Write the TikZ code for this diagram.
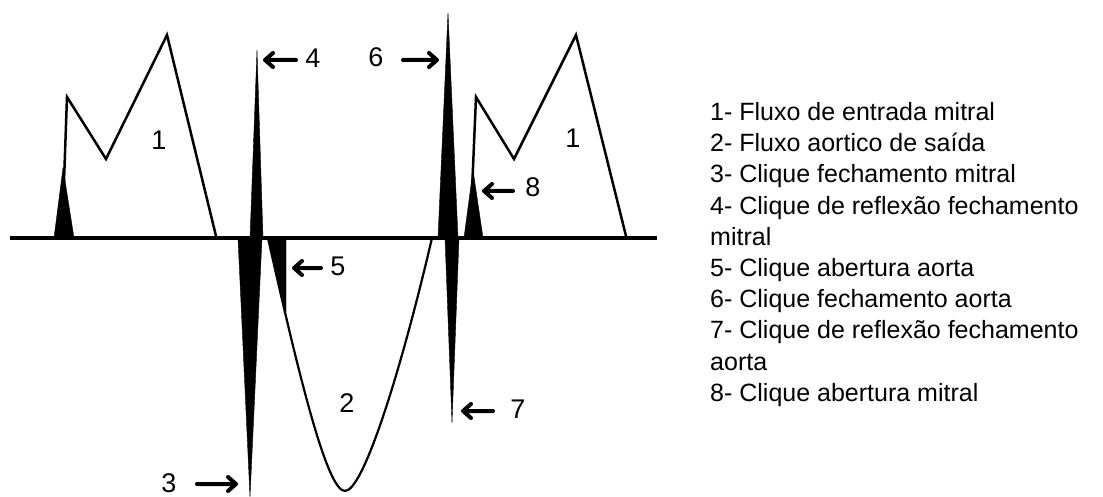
\documentclass[tikz,border=0pt]{standalone}
\usepackage{fontspec}
\setmainfont{Liberation Sans}
\begin{document}
\begin{tikzpicture}[x=1pt,y=-1pt]
\tikzset{
  wave/.style={line width=2.5pt,line join=miter},
  axisline/.style={line width=3.2pt},
  spike/.style={fill=black,draw=black,line width=0.4pt,line join=round},
  pointer/.style={draw=black,line width=4pt,line join=round,line cap=round},
  num/.style={inner sep=0pt,font=\fontsize{27}{30}\selectfont},
  legend/.style={inner sep=0pt,anchor=base west,font=\fontsize{25}{30}\selectfont}}
\useasboundingbox (0,0) rectangle (1103,497);
% baseline
\coordinate (b0) at (10,238);
\coordinate (b1) at (657,238);
\draw[axisline] (b0) -- (b1);
% left mitral inflow wave
\draw[wave] (62,238) -- (67,97) -- (106,159) -- (167,35) -- (216,236);
\fill[spike] (54,238) -- (74,238) -- (63,168) -- cycle;
% right mitral inflow wave
\draw[wave] (470,238) -- (476,97) -- (514,159) -- (576,35) -- (626,236);
\fill[spike] (464,238) -- (483,238) -- (473,170) -- cycle;
% spikes 3 and 4
\fill[spike] (238,238) -- (262,238) -- (250,497) -- cycle;
\fill[spike] (250,238) -- (263,238) -- (257,50) -- cycle;
% spike 5 and aortic outflow 2
\fill[spike] (268,238) -- (286,238) -- (286,312) -- cycle;
\draw[line width=2.2pt] (268,238) .. controls (302,390) and (328,491) .. (345,491)
  .. controls (363,491) and (400,375) .. (432,238);
% spikes 6 and 7
\fill[spike] (438,238) -- (458,238) -- (448,13) -- cycle;
\fill[spike] (445,238) -- (459,238) -- (452,423) -- cycle;
% labels
\node[num] (l1a) at (159,140) {1};
\node[num] (l1b) at (573,138) {1};
\node[num] (l2) at (347,403) {2};
\node[num] (l3) at (169,483) {3};
\node[num] (l4) at (313,58) {4};
\node[num] (l5) at (338,266) {5};
\node[num] (l6) at (376,57) {6};
\node[num] (l7) at (518,409) {7};
\node[num] (l8) at (533,187) {8};
% arrow ends
\coordinate (a3s) at (197,484); \coordinate (a3e) at (236,484);
\coordinate (a4s) at (296,60);  \coordinate (a4e) at (265,60);
\coordinate (a5s) at (321,268); \coordinate (a5e) at (294,268);
\coordinate (a6s) at (403,60);  \coordinate (a6e) at (437,60);
\coordinate (a7s) at (493,411); \coordinate (a7e) at (463,411);
\coordinate (a8s) at (513,191); \coordinate (a8e) at (484,191);
% right-pointing
\draw[pointer] (a3s) -- (a3e) ++(-8,-7) -- (a3e) -- ++(-8,7);
\draw[pointer] (a6s) -- (a6e) ++(-8,-7) -- (a6e) -- ++(-8,7);
% left-pointing
\draw[pointer] (a4s) -- (a4e) ++(8,-7) -- (a4e) -- ++(8,7);
\draw[pointer] (a5s) -- (a5e) ++(8,-7) -- (a5e) -- ++(8,7);
\draw[pointer] (a7s) -- (a7e) ++(8,-7) -- (a7e) -- ++(8,7);
\draw[pointer] (a8s) -- (a8e) ++(8,-7) -- (a8e) -- ++(8,7);
% legend
\node[legend] (g1) at (710,120.5) {1- Fluxo de entrada mitral};
\node[legend] (g2) at (710,151.7) {2- Fluxo aortico de saída};
\node[legend] (g3) at (710,182.9) {3- Clique fechamento mitral};
\node[legend] (g4) at (710,214.1) {4- Clique de reflexão fechamento};
\node[legend] (g4b) at (710,245.3) {mitral};
\node[legend] (g5) at (710,276.5) {5- Clique abertura aorta};
\node[legend] (g6) at (710,307.7) {6- Clique fechamento aorta};
\node[legend] (g7) at (710,338.9) {7- Clique de reflexão fechamento};
\node[legend] (g7b) at (710,370.1) {aorta};
\node[legend] (g8) at (710,401.3) {8- Clique abertura mitral};
\end{tikzpicture}
\end{document}
